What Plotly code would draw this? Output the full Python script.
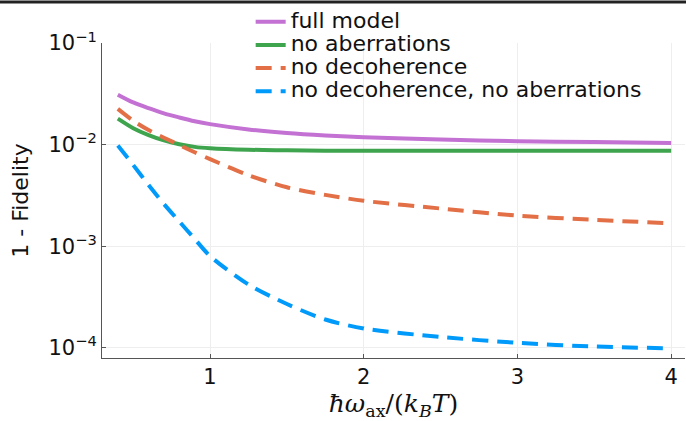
import plotly.graph_objects as go

x = [0.4, 0.5, 0.6, 0.7, 0.8, 0.9, 1.0, 1.25, 1.5, 1.75, 2.0, 2.5, 3.0, 3.5, 4.0]

full_model = [0.0310, 0.0260, 0.0228, 0.0203, 0.0185, 0.0170, 0.0159, 0.0141, 0.0130,
              0.0123, 0.0118, 0.0112, 0.0108, 0.0106, 0.0104]
no_aberr = [0.0180, 0.0145, 0.0124, 0.0110, 0.0101, 0.0095, 0.0092, 0.0089, 0.0088,
            0.0087, 0.0087, 0.0087, 0.0087, 0.0087, 0.0087]
no_decoh = [0.0225, 0.0172, 0.0139, 0.0117, 0.0099, 0.0084, 0.0072, 0.0050, 0.0038,
            0.0032, 0.0028, 0.00235, 0.0020, 0.00182, 0.00168]
no_both = [0.0098, 0.0063, 0.0040, 0.0026, 0.00175, 0.00118, 0.00080, 0.00042, 0.00027,
           0.00019, 0.000155, 0.000128, 0.000112, 0.000103, 0.000099]

names = ["full model", "no aberrations", "no decoherence", "no decoherence, no aberrations"]
colors = ["#c371d2", "#3ea44e", "#e36f47", "#009afa"]
dashes = ["solid", "solid", "16px,9px", "16px,9px"]
series = [full_model, no_aberr, no_decoh, no_both]

ytickvals = [1e-4, 1e-3, 1e-2, 1e-1]
yticktext = ["10<sup>−4</sup>", "10<sup>−3</sup>", "10<sup>−2</sup>", "10<sup>−1</sup>"]
xtickvals = [1, 2, 3, 4]

fig = go.Figure()
for name, ys, c, d in zip(names, series, colors, dashes):
    fig.add_trace(go.Scatter(x=x, y=ys, name='<span style="font-size:22px">' + name + '</span>',
                             mode="lines",
                             line=dict(color=c, width=4, dash=d, shape="spline", smoothing=0.8)))

font = "DejaVu Sans, sans-serif"
fig.update_layout(
    width=686, height=421,
    margin=dict(l=102, r=1, t=43, b=63, autoexpand=False),
    plot_bgcolor="white", paper_bgcolor="white",
    font=dict(family=font, size=21, color="#111"),
    showlegend=True,
    legend=dict(x=0.255, y=1.12, xanchor="left", yanchor="top",
                bgcolor="rgba(0,0,0,0)", font=dict(size=15.5), tracegroupgap=0,
                itemwidth=30),
    xaxis=dict(range=[0.297, 4.09], tickvals=xtickvals, showline=True, linecolor="#555",
               linewidth=1, ticks="inside", ticklen=4, tickcolor="#555", automargin=False,
               showgrid=True, gridcolor="#eeeeee", gridwidth=1, zeroline=False,
               title=dict(text="<i>ħω</i><sub>ax</sub>/(<i>k<sub>B</sub>T</i>)",
                          font=dict(family="DejaVu Serif, serif", size=25), standoff=4)),
    yaxis=dict(type="log", range=[-4.1, -1.0], tickvals=ytickvals, ticktext=yticktext,
               showline=True, linecolor="#555", linewidth=1, ticks="inside", ticklen=4,
               tickcolor="#555", showgrid=True, gridcolor="#eeeeee", gridwidth=1,
               zeroline=False, automargin=False,
               title=dict(text="1 - Fidelity", font=dict(size=22), standoff=13)),
    shapes=[dict(type="line", xref="paper", yref="paper", x0=-0.2, x1=1.05,
                 y0=1.13, y1=1.13, line=dict(color="#222", width=3))],
)

fig.write_html("out.html", post_script="document.body.style.margin='0';",
               config={"displayModeBar": False})
